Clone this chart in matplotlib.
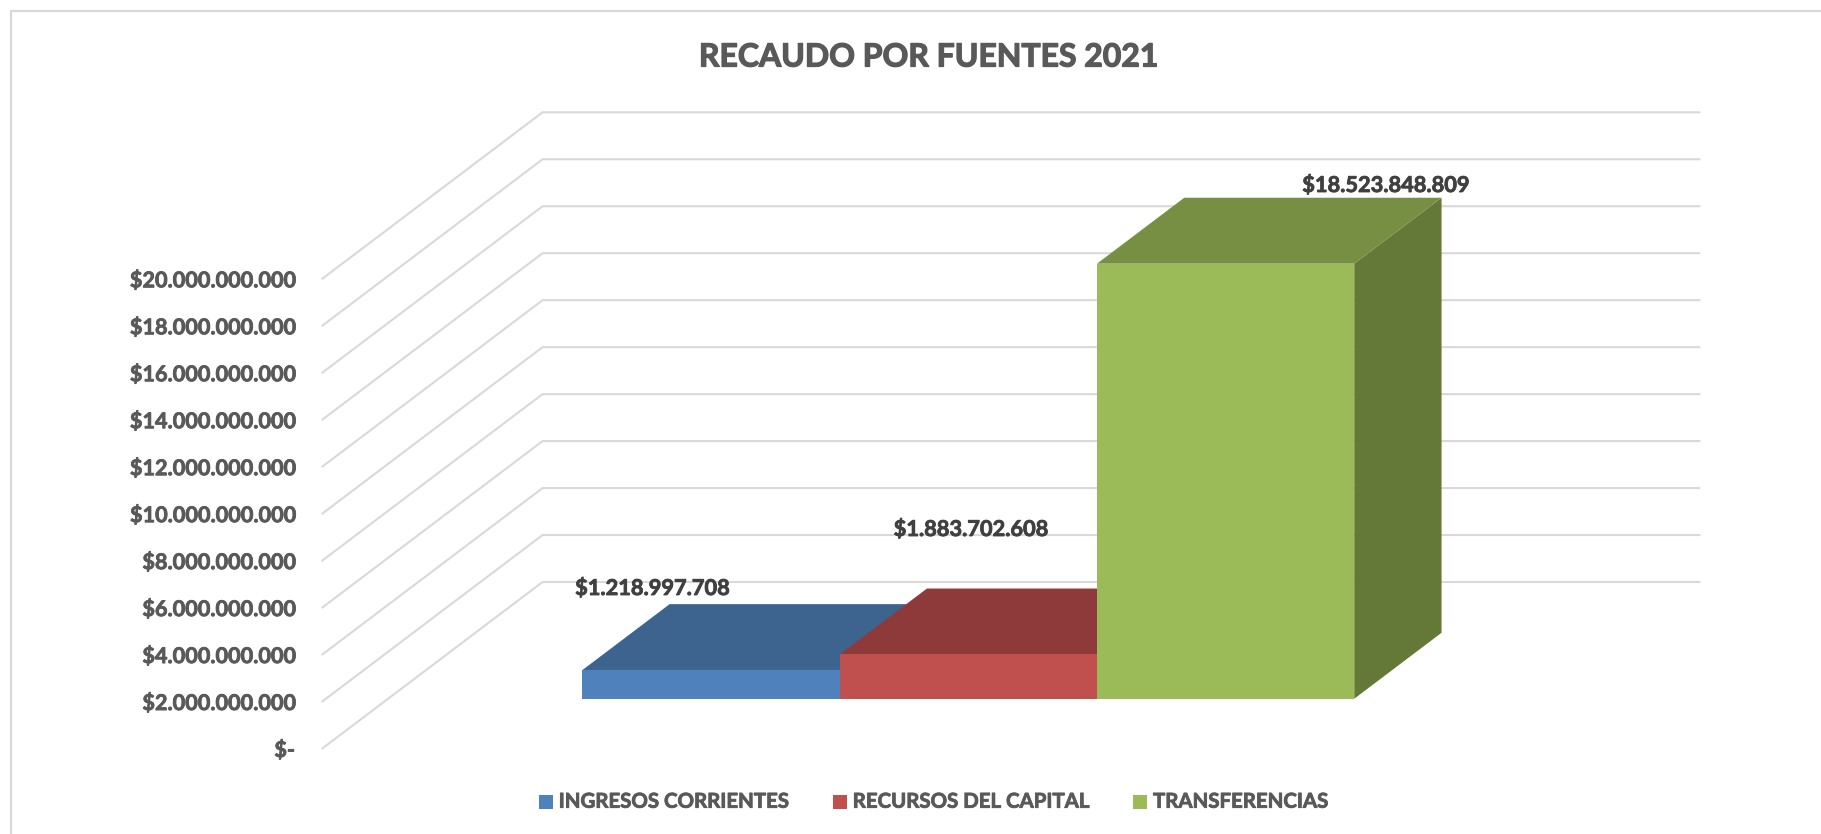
import matplotlib
matplotlib.use("Agg")
import matplotlib.pyplot as plt
import matplotlib.patheffects as pe
from matplotlib.patches import Polygon, Rectangle

title = "RECAUDO POR FUENTES 2021"
series = ["INGRESOS CORRIENTES", "RECURSOS DEL CAPITAL", "TRANSFERENCIAS"]
values = [1218997708, 1883702608, 18523848809]
value_labels = ["$1.218.997.708", "$1.883.702.608", "$18.523.848.809"]
ticks = [0, 2e9, 4e9, 6e9, 8e9, 10e9, 12e9, 14e9, 16e9, 18e9, 20e9]
tick_labels = ["$-", "$2.000.000.000", "$4.000.000.000", "$6.000.000.000", "$8.000.000.000",
               "$10.000.000.000", "$12.000.000.000", "$14.000.000.000", "$16.000.000.000",
               "$18.000.000.000", "$20.000.000.000"]
front_colors = ["#4f81bd", "#c0504d", "#9bbb59"]
top_colors = ["#3d638f", "#8f3a3a", "#778f43"]
side_colors = ["#335376", "#763030", "#647837"]

W, H = 1821, 834
X0, Y0 = 900.5, 749.0          # pixel of plot centre on the front floor edge
PX_X, PX_Y = 257.3, 23.485e-9  # pixels per bar width, pixels per peso
DX, DY = 221 / PX_X, 167 / PX_Y   # full depth of the 3D box, in data units
D0, D1 = 0.301, 0.696          # depth span of the bars
BAR_OFF = 0.005

fig = plt.figure(figsize=(W / 100, H / 100), dpi=100, facecolor="white")
ax = fig.add_axes([0, 0, 1, 1])
ax.set_xlim((0 - X0) / PX_X, (W - X0) / PX_X)
ax.set_ylim((Y0 - H) / PX_Y, Y0 / PX_Y)
ax.axis("off")
px = lambda x: (x - X0) / PX_X
py = lambda y: (Y0 - y) / PX_Y
FONT = "Lato"
GRID = "#d9d9d9"


def heavy(color, w=0.6):
    return [pe.withStroke(linewidth=w, foreground=color)]


# outer chart frame (left and top only)
ax.plot([px(11), px(11), px(W)], [py(H), py(10.5), py(10.5)], color=GRID, lw=1.6, zorder=1,
        solid_joinstyle="miter")

# gridlines: side wall then back wall
XL, XR = -2.25, 2.25
for t, lab in zip(ticks, tick_labels):
    ax.plot([XL, XL + DX, XR + DX], [t, t + DY, t + DY], color=GRID, lw=1.5, zorder=2,
            solid_joinstyle="miter", solid_capstyle="butt")
    ax.text(px(295), t - 1.5 / PX_Y, lab, ha="right", va="center", family=FONT, weight="bold",
            fontsize=15.6, color="#595959", zorder=6, path_effects=heavy("#595959"))

# bars, painted left to right
def proj(x, v, d):
    return (x + d * DX + BAR_OFF, v + d * DY)

for i, v in enumerate(values):
    a, b = -1.5 + i, -0.5 + i
    side = [proj(b, 0, D0), proj(b, 0, D1), proj(b, v, D1), proj(b, v, D0)]
    top = [proj(a, v, D0), proj(a, v, D1), proj(b, v, D1), proj(b, v, D0)]
    front = [proj(a, 0, D0), proj(b, 0, D0), proj(b, v, D0), proj(a, v, D0)]
    ax.add_patch(Polygon(side, fc=side_colors[i], ec="none", zorder=3 + i / 10))
    ax.add_patch(Polygon(top, fc=top_colors[i], ec="none", zorder=3 + i / 10))
    ax.add_patch(Polygon(front, fc=front_colors[i], ec="none", zorder=3 + i / 10))

# data labels
label_pos = [(652, 588.5), (970.5, 529.5), (1385.5, 185.5)]
for (lx, ly), lab in zip(label_pos, value_labels):
    ax.text(px(lx), py(ly), lab, ha="center", va="center", family=FONT, weight="bold",
            fontsize=15.7, color="#404040", zorder=7, path_effects=heavy("#404040"))

# title
ax.text(px(929), py(57), title, ha="center", va="center", family=FONT, weight="bold",
        fontsize=23, color="#595959", zorder=7, path_effects=heavy("#595959", 0.9))

# legend
sq_x = [539, 833, 1133]
tx_x = [558.7, 852.7, 1153]
for sx, tx, name, c in zip(sq_x, tx_x, series, front_colors):
    ax.add_patch(Rectangle((px(sx), py(809)), 14 / PX_X, 14 / PX_Y, fc=c, ec="none", zorder=7))
    ax.text(px(tx), py(801.7), name, ha="left", va="center", family=FONT, weight="bold",
            fontsize=14.7, color="#595959", zorder=7, path_effects=heavy("#595959"))

fig.savefig("out.png", dpi=100, facecolor="white")
